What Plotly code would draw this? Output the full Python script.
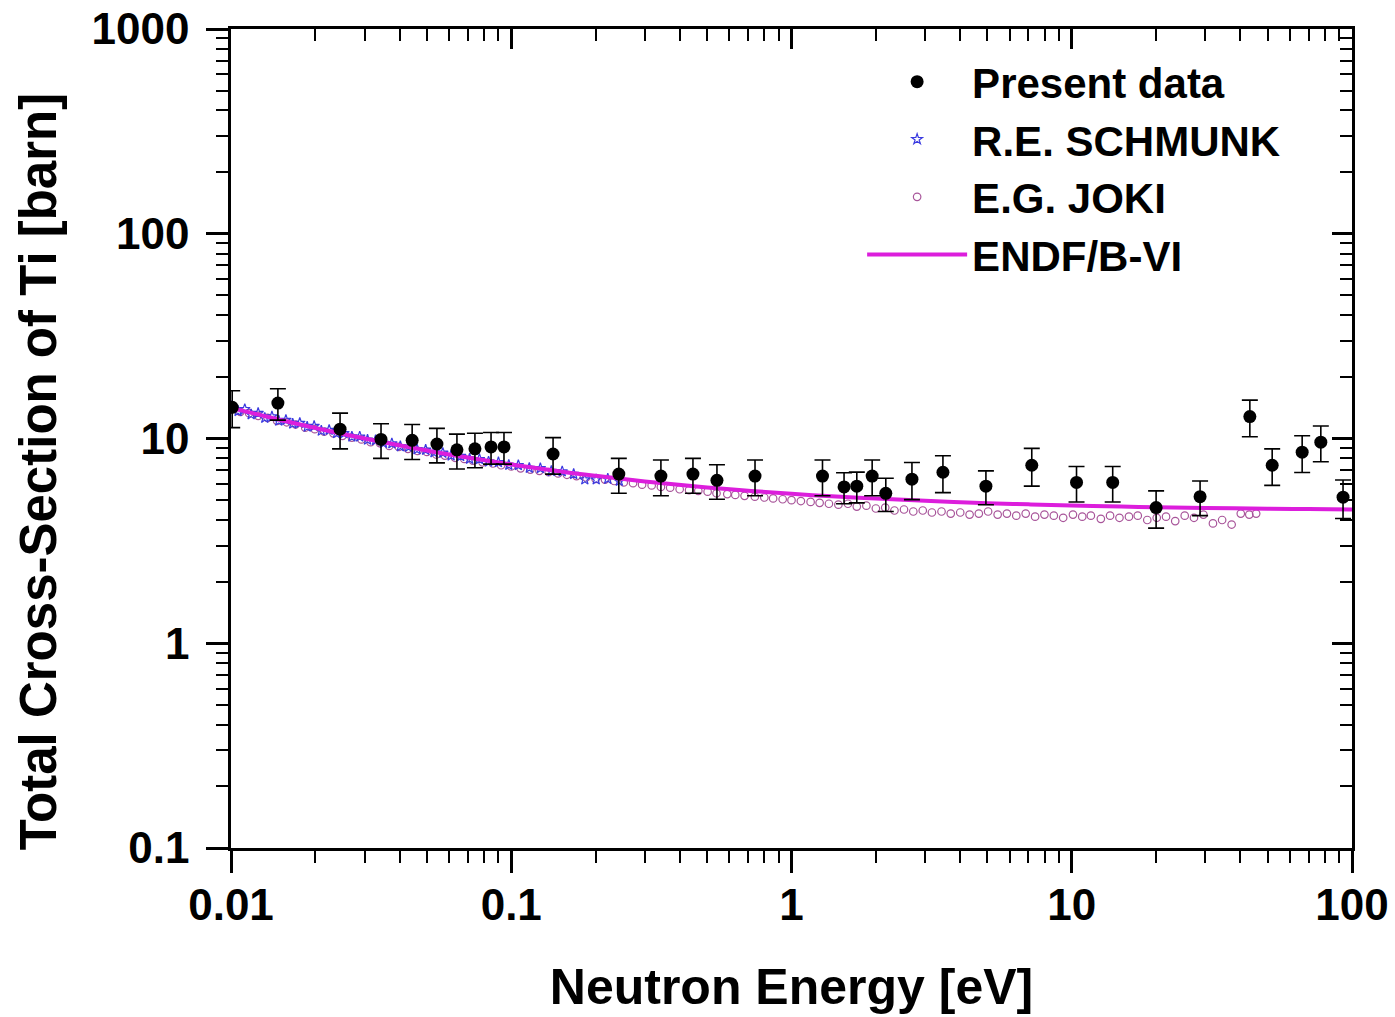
import plotly.graph_objects as go

# ---------------- data ----------------
present_E = [0.0101, 0.0147, 0.0245, 0.0343, 0.0443, 0.0543, 0.064, 0.0742, 0.0847, 0.0942,
             0.141, 0.242, 0.342, 0.445, 0.542, 0.741, 1.29, 1.54, 1.71, 1.94,
             2.17, 2.69, 3.47, 4.94, 7.2, 10.4, 14.0, 20.0, 28.7, 43.2,
             51.9, 66.4, 77.4, 92.9]
present_sigma = [14.2, 14.9, 11.1, 9.9, 9.8, 9.4, 8.8, 8.9, 9.1, 9.1,
                 8.4, 6.7, 6.55, 6.7, 6.25, 6.55, 6.55, 5.8, 5.85, 6.55,
                 5.4, 6.33, 6.84, 5.85, 7.4, 6.1, 6.1, 4.6, 5.2, 12.8,
                 7.4, 8.57, 9.6, 5.17]
present_err = [2.9, 2.6, 2.2, 1.9, 1.9, 1.8, 1.7, 1.7, 1.6, 1.6,
               1.7, 1.3, 1.3, 1.3, 1.2, 1.3, 1.3, 1.0, 1.0, 1.3,
               1.0, 1.3, 1.4, 1.1, 1.55, 1.2, 1.2, 0.95, 1.0, 2.6,
               1.5, 1.75, 1.9, 1.1]

schmunk_E = [0.0100, 0.0106, 0.0112, 0.0118, 0.0125, 0.0132, 0.0140, 0.0148, 0.0157, 0.0166,
             0.0176, 0.0187, 0.0198, 0.0210, 0.0224, 0.0238, 0.0253, 0.0270, 0.0288, 0.0307,
             0.0328, 0.0350, 0.0375, 0.0402, 0.0430, 0.0461, 0.0495, 0.053, 0.057, 0.061,
             0.066, 0.071, 0.077, 0.083, 0.090, 0.098, 0.106, 0.116, 0.127, 0.139,
             0.152, 0.167, 0.183, 0.201, 0.221, 0.243]
schmunk_sigma = [14.4, 13.6, 13.9, 13.1, 13.3, 12.6, 12.8, 12.2, 12.3, 11.8,
                 11.9, 11.4, 11.5, 10.9, 11.0, 10.6, 10.6, 10.2, 10.2, 9.85,
                 9.8, 9.5, 9.45, 9.15, 9.1, 8.85, 8.8, 8.55, 8.5, 8.25,
                 8.2, 7.95, 7.92, 7.7, 7.65, 7.42, 7.4, 7.18, 7.15, 6.93,
                 6.9, 6.7, 6.3, 6.3, 6.35, 6.2]

joki_E = [0.0100, 0.0108, 0.0116, 0.0125, 0.0135, 0.0146, 0.0158, 0.0170, 0.0184, 0.0199,
          0.0215, 0.0232, 0.0250, 0.0270, 0.0292, 0.0315, 0.0340, 0.0367, 0.0397, 0.0428,
          0.0463, 0.0500, 0.054, 0.058, 0.063, 0.068, 0.073, 0.079, 0.086, 0.092,
          0.100, 0.108, 0.117, 0.126, 0.136, 0.147, 0.158, 0.171, 0.185, 0.200,
          0.216, 0.233, 0.252, 0.272, 0.293, 0.317, 0.342, 0.369, 0.399, 0.431,
          0.465, 0.502, 0.54, 0.59, 0.63, 0.68, 0.74, 0.80, 0.86, 0.93,
          1.00, 1.08, 1.17, 1.26, 1.36, 1.47, 1.59, 1.71, 1.85, 2.00,
          2.16, 2.33, 2.52, 2.72, 2.94, 3.17, 3.43, 3.70, 4.00, 4.32,
          4.66, 5.03, 5.44, 5.87, 6.34, 6.85, 7.40, 7.99, 8.63, 9.32,
          10.1, 10.9, 11.7, 12.7, 13.7, 14.8, 16.0, 17.2, 18.6, 20.1,
          21.7, 23.4, 25.3, 27.3, 29.5, 31.9, 34.4, 37.2, 40.1, 43.0, 45.5]
joki_sigma = [13.9, 13.5, 13.3, 12.9, 12.6, 12.2, 12.0, 11.7, 11.3, 11.1,
              10.8, 10.6, 10.3, 10.1, 9.9, 9.6, 9.5, 9.2, 9.1, 8.9,
              8.7, 8.6, 8.35, 8.25, 8.05, 7.95, 7.8, 7.65, 7.55, 7.4,
              7.3, 7.15, 7.05, 6.95, 6.85, 6.75, 6.65, 6.55, 6.45, 6.35,
              6.3, 6.2, 6.1, 6.05, 5.95, 5.9, 5.8, 5.75, 5.65, 5.6,
              5.55, 5.5, 5.4, 5.35, 5.3, 5.25, 5.2, 5.15, 5.1, 5.05,
              5.0, 4.95, 4.9, 4.85, 4.8, 4.75, 4.8, 4.65, 4.7, 4.55,
              4.6, 4.45, 4.5, 4.4, 4.45, 4.35, 4.4, 4.3, 4.35, 4.25,
              4.3, 4.4, 4.25, 4.3, 4.2, 4.3, 4.15, 4.25, 4.2, 4.1,
              4.25, 4.15, 4.2, 4.05, 4.2, 4.1, 4.15, 4.2, 4.0, 4.1,
              4.15, 3.95, 4.2, 4.1, 4.25, 3.85, 4.0, 3.8, 4.3, 4.25, 4.3]

endf_E = [0.01, 0.015, 0.02, 0.03, 0.05, 0.07, 0.1, 0.15, 0.2, 0.3, 0.5, 0.7, 1,
          1.5, 2, 3, 5, 7, 10, 15, 20, 30, 50, 70, 100]
endf_sigma = [14.1, 12.32, 11.26, 10.0, 8.74, 8.07, 7.47, 6.90, 6.57, 6.17, 5.77, 5.56, 5.37,
              5.19, 5.09, 4.96, 4.83, 4.77, 4.71, 4.65, 4.62, 4.58, 4.54, 4.52, 4.50]

x_tick_vals = [0.01, 0.1, 1, 10, 100]
x_tick_text = ["0.01", "0.1", "1", "10", "100"]
y_tick_vals = [0.1, 1, 10, 100, 1000]
y_tick_text = ["0.1", "1", "10", "100", "1000"]

x_title = "Neutron Energy [eV]"
y_title = "Total Cross-Section of Ti [barn]"

x_minor = [m * 10.0 ** d for d in range(-2, 2) for m in range(2, 10)]
y_minor = [m * 10.0 ** d for d in range(-1, 3) for m in range(2, 10)]

FONT = "Liberation Sans, Arial, sans-serif"

fig = go.Figure()

fig.add_trace(go.Scatter(
    x=joki_E, y=joki_sigma, mode="markers", name="E.G. JOKI", legendrank=3,
    marker=dict(symbol="circle-open", size=7.5, color="#a8559a", line=dict(width=1.2, color="#a8559a")),
))
fig.add_trace(go.Scatter(
    x=schmunk_E, y=schmunk_sigma, mode="markers", name="R.E. SCHMUNK", legendrank=2,
    marker=dict(symbol="star-open", size=8, color="#3a3ae0", line=dict(width=1.2, color="#3a3ae0")),
))
fig.add_trace(go.Scatter(
    x=endf_E, y=endf_sigma, mode="lines", name="ENDF/B-VI", legendrank=4,
    line=dict(color="#dc1edc", width=4, shape="spline"),
))
# drawn on the (identical-range) top/right axes so those frame axes are rendered
fig.add_trace(go.Scatter(
    x=present_E, y=present_sigma, mode="markers", name="Present data", legendrank=1,
    xaxis="x2", yaxis="y2",
    marker=dict(symbol="circle", size=13, color="black"),
    error_y=dict(type="data", array=present_err, color="black", thickness=1.6, width=8),
))

axis_common = dict(
    type="log", showline=True, linecolor="black", linewidth=2.5, mirror=False,
    showgrid=False, zeroline=False, tickcolor="black", tickwidth=2.5, automargin=False,
)

fig.update_layout(
    width=1395, height=1017,
    margin=dict(l=231, r=43, t=29, b=169, autoexpand=False),
    plot_bgcolor="white", paper_bgcolor="white",
    font=dict(family=FONT, color="black"),
    showlegend=True,
    legend=dict(
        x=0.563, y=0.977, xanchor="left", yanchor="top",
        bgcolor="rgba(0,0,0,0)", borderwidth=0,
        font=dict(family=FONT, size=42, color="black", weight="bold"),
        itemwidth=100, tracegroupgap=0,
    ),
    xaxis=dict(
        **axis_common, range=[-2, 2], anchor="y",
        tickmode="array", tickvals=x_tick_vals, ticktext=x_tick_text,
        ticks="outside", ticklen=22, ticklabelstandoff=-6,
        minor=dict(tickmode="array", tickvals=x_minor, ticks="outside", ticklen=12,
                   tickwidth=2.2, tickcolor="black", showgrid=False),
        tickfont=dict(family=FONT, size=44, color="black", weight="bold"),
        title=dict(text=x_title, standoff=42,
                   font=dict(family=FONT, size=50, color="black", weight="bold")),
    ),
    yaxis=dict(
        **axis_common, range=[-1, 3], anchor="x",
        tickmode="array", tickvals=y_tick_vals, ticktext=y_tick_text,
        ticks="outside", ticklen=22, ticklabelstandoff=8,
        minor=dict(tickmode="array", tickvals=y_minor, ticks="outside", ticklen=12,
                   tickwidth=2.2, tickcolor="black", showgrid=False),
        tickfont=dict(family=FONT, size=44, color="black", weight="bold"),
    ),
    xaxis2=dict(
        **axis_common, range=[-2, 2], overlaying="x", side="top", anchor="y2",
        tickmode="array", tickvals=x_tick_vals, showticklabels=False,
        ticks="inside", ticklen=20,
        minor=dict(tickmode="array", tickvals=x_minor, ticks="inside", ticklen=12,
                   tickwidth=2.2, tickcolor="black", showgrid=False),
    ),
    yaxis2=dict(
        **axis_common, range=[-1, 3], overlaying="y", side="right", anchor="x2",
        tickmode="array", tickvals=y_tick_vals, showticklabels=False,
        ticks="inside", ticklen=20,
        minor=dict(tickmode="array", tickvals=y_minor, ticks="inside", ticklen=12,
                   tickwidth=2.2, tickcolor="black", showgrid=False),
    ),
    annotations=[dict(
        text=y_title, textangle=-90, showarrow=False,
        xref="paper", yref="paper", x=-0.172, y=0.459,
        xanchor="center", yanchor="middle",
        font=dict(family=FONT, size=51, color="black", weight="bold"),
    )],
)

fig.write_html("out.html")
